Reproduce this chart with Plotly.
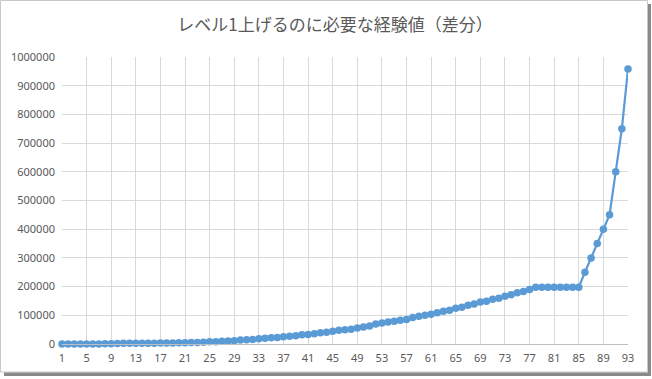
import plotly.graph_objects as go

levels = list(range(1, 94))
exp_diff = [
    0, 50, 100, 150, 200, 300, 400, 500, 600,                      # 1-9
    2000, 2200, 2400, 2500, 2700, 2800, 3000, 3200, 3400, 3600,   # 10-19
    4000, 4700, 4800, 4900, 5800, 8000, 8200, 9300, 10500, 11600,  # 20-29
    14000, 15000, 16000, 18600, 19800, 22000, 22500, 25600, 26700, 29000,  # 30-39
    32600, 33000, 36000, 39500, 40700, 44000, 47700, 50000, 51000, 56000,  # 40-49
    59000, 63000, 70000, 73000, 77000, 79000, 83000, 85000, 92000, 97000,  # 50-59
    100000, 104000, 109000, 114000, 118000, 125000, 128000, 135000, 139000, 146000,  # 60-69
    149000, 156000, 159000, 166000, 172000, 179000, 183000, 190000, 198000, 198000,  # 70-79
    198000, 198000, 198000, 198000, 198000, 198000, 250000, 300000, 350000, 400000,  # 80-89
    450000, 600000, 750000, 958000,                                # 90-93
]
title_text = "レベル1上げるのに必要な経験値（差分）"
y_ticks = [0, 100000, 200000, 300000, 400000, 500000, 600000, 700000, 800000, 900000, 1000000]
x_ticks = list(range(1, 94, 4))

W, H = 652, 379
L, R, T, B = 62, 24, 57, 35
pw = W - L - R
ph = H - T - B

def px(x):
    return (x - L) / pw

def py(y):
    return (H - B - y) / ph

fig = go.Figure()
fig.add_trace(go.Scatter(
    x=levels, y=exp_diff, mode="lines+markers",
    line=dict(color="#5B9BD5", width=2.2),
    marker=dict(color="#5B9BD5", size=7.5, symbol="circle"),
    cliponaxis=False, hoverinfo="x+y",
))

shapes = [
    # outer light border
    dict(type="rect", xref="paper", yref="paper",
         x0=px(0.5), x1=px(647.5), y0=py(0.5), y1=py(372),
         line=dict(color="#c8c8c8", width=1), layer="below"),
    # shadow right
    dict(type="rect", xref="paper", yref="paper",
         x0=px(648), x1=px(651), y0=py(4), y1=py(376),
         line=dict(width=0), fillcolor="#8a8a8a", layer="below"),
    # shadow bottom
    dict(type="rect", xref="paper", yref="paper",
         x0=px(4), x1=px(651), y0=py(372.5), y1=py(376),
         line=dict(width=0), fillcolor="#8a8a8a", layer="below"),
]

fig.update_layout(
    width=W, height=H,
    margin=dict(l=L, r=R, t=T, b=B),
    paper_bgcolor="white", plot_bgcolor="white",
    showlegend=False,
    title=dict(text=title_text, x=(183 + 487) / 2 / W, xanchor="center",
               y=1 - 25 / H, yanchor="middle",
               font=dict(family="Noto Sans CJK JP", size=17, color="#595959")),
    font=dict(family="Noto Sans", size=11, color="#595959"),
    xaxis=dict(range=[1, 93], tickmode="array", tickvals=x_ticks,
               ticktext=[str(v) for v in x_ticks],
               showgrid=True, gridcolor="#d9d9d9", gridwidth=1,
               zeroline=False, showline=True, linecolor="#bfbfbf", linewidth=1,
               ticks="", ticklabelstandoff=4,
               tickfont=dict(family="Noto Sans", size=11, color="#595959")),
    yaxis=dict(range=[0, 1000000], tickmode="array", tickvals=y_ticks,
               ticktext=[str(v) for v in y_ticks],
               showgrid=True, gridcolor="#d9d9d9", gridwidth=1,
               zeroline=False, showline=False, ticks="",
               ticklabelstandoff=6,
               tickfont=dict(family="Noto Sans", size=11, color="#595959")),
    shapes=shapes,
)

fig.write_html("out.html")
